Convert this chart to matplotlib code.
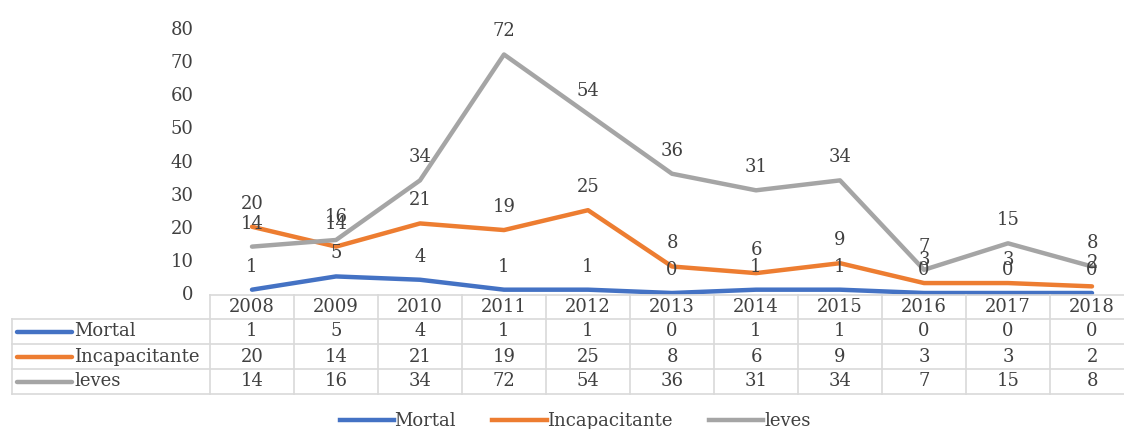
import matplotlib
matplotlib.use("Agg")
import matplotlib.pyplot as plt
from matplotlib.lines import Line2D
from matplotlib.transforms import blended_transform_factory

years = ["2008", "2009", "2010", "2011", "2012", "2013", "2014", "2015", "2016", "2017", "2018"]
mortal = [1, 5, 4, 1, 1, 0, 1, 1, 0, 0, 0]
incapacitante = [20, 14, 21, 19, 25, 8, 6, 9, 3, 3, 2]
leves = [14, 16, 34, 72, 54, 36, 31, 34, 7, 15, 8]
series_names = ["Mortal", "Incapacitante", "leves"]
yticks = [0, 10, 20, 30, 40, 50, 60, 70, 80]

colors = ["#4472C4", "#ED7D31", "#A5A5A5"]
txt = "#404040"
grid = "#D9D9D9"
FONT = "DejaVu Serif"
FS = 13

plt.rcParams["font.family"] = [FONT, "DejaVu Sans"]

W, H = 1124, 429
fig = plt.figure(figsize=(W / 100, H / 100), dpi=100)

def fx(px):
    return px / W

def fy(py):
    return 1 - py / H

x_left, x_right = 210, 1134
y0, y80 = 293, 28
ax = fig.add_axes([fx(x_left), fy(y0), (x_right - x_left) / W, (y0 - y80) / H])
ax.set_xlim(-0.5, len(years) - 0.5)
ax.set_ylim(0, 80)
for s in ax.spines.values():
    s.set_visible(False)
ax.set_xticks([])
ax.set_yticks(yticks)
ax.set_yticklabels([str(v) for v in yticks], fontsize=FS, color=txt)
ax.tick_params(axis="y", length=0, pad=12)
ax.patch.set_alpha(0)

xs = list(range(len(years)))
all_series = [mortal, incapacitante, leves]
for vals, c, name in zip(all_series, colors, series_names):
    ax.plot(xs, vals, color=c, lw=3.2, solid_capstyle="round", solid_joinstyle="round",
            label=name, clip_on=False)
for vals in all_series:
    for x, v in zip(xs, vals):
        ax.annotate(str(v), (x, v), xytext=(0, 23), textcoords="offset pixels",
                    ha="center", va="center", fontsize=FS, color=txt, annotation_clip=False)

# ---- data table ----
bt = blended_transform_factory(ax.transData, fig.transFigure)
row_lines = [295, 319, 344, 369, 394]
tab_left = 12
fig.add_artist(Line2D([fx(x_left), 1], [fy(row_lines[0])] * 2, color=grid, lw=1.2,
                      transform=fig.transFigure))
for r in row_lines[1:]:
    fig.add_artist(Line2D([fx(tab_left), 1], [fy(r)] * 2, color=grid, lw=1.2,
                          transform=fig.transFigure))
fig.add_artist(Line2D([fx(tab_left)] * 2, [fy(row_lines[1]), fy(row_lines[-1])], color=grid,
                      lw=1.2, transform=fig.transFigure))
for k in range(len(years) + 1):
    fig.add_artist(Line2D([k - 0.5] * 2, [fy(row_lines[0]), fy(row_lines[-1])], color=grid,
                          lw=1.2, transform=bt))

def row_center(i):
    return fy((row_lines[i] + row_lines[i + 1]) / 2)

for x, yr in zip(xs, years):
    fig.text(x, row_center(0), yr, transform=bt, ha="center", va="center",
             fontsize=FS, color=txt)
for i, (vals, c, name) in enumerate(zip(all_series, colors, series_names)):
    yc = row_center(i + 1)
    fig.add_artist(Line2D([fx(17), fx(72)], [yc, yc], color=c, lw=3.2,
                          solid_capstyle="round", transform=fig.transFigure))
    fig.text(fx(74), yc, name, ha="left", va="center", fontsize=FS, color=txt)
    for x, v in zip(xs, vals):
        fig.text(x, yc, str(v), transform=bt, ha="center", va="center",
                 fontsize=FS, color=txt)

# ---- legend ----
handles = [Line2D([0], [0], color=c, lw=3.2) for c in colors]
fig.legend(handles, series_names, loc="center", bbox_to_anchor=(fx(575), fy(421)),
           ncol=3, frameon=False, handlelength=3.0, handletextpad=0.05,
           columnspacing=2.0, prop={"family": FONT, "size": FS}, labelcolor=txt)

fig.savefig("out.png", dpi=100)
